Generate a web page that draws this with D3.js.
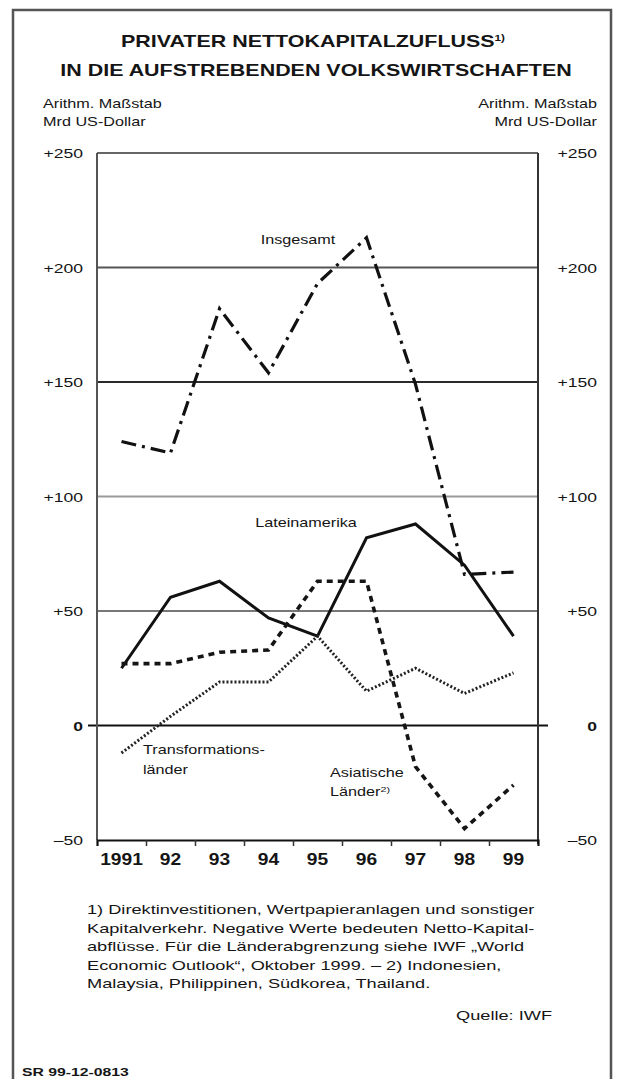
<!DOCTYPE html>
<html>
<head>
<meta charset="utf-8">
<script src="https://cdn.jsdelivr.net/npm/d3@7"></script>
<style>
  body { margin: 0; background: #fff; }
  svg { display: block; font-family: "Liberation Sans", Arial, sans-serif; }
</style>
</head>
<body>
<svg id="chart" width="621" height="1079"></svg>
<script>
// values in Mrd US-Dollar
const years = ["1991", "92", "93", "94", "95", "96", "97", "98", "99"];
const insgesamt = [124, 119, 182, 154, 193, 213, 149, 66, 67];
const lateinamerika = [25, 56, 63, 47, 39, 82, 88, 70, 39];
const asiatischeLaender = [27, 27, 32, 33, 63, 63, -18, -45, -26];
const transformationslaender = [-12, 4, 19, 19, 39, 15, 25, 14, 23];
const yTicks = [250, 200, 150, 100, 50, 0, -50];

const footnote = [
  "1) Direktinvestitionen, Wertpapieranlagen und sonstiger",
  "Kapitalverkehr. Negative Werte bedeuten Netto-Kapital-",
  "abflüsse. Für die Länderabgrenzung siehe IWF „World",
  "Economic Outlook“, Oktober 1999. – 2) Indonesien,",
  "Malaysia, Philippinen, Südkorea, Thailand."
];

const svg = d3.select("#chart");
const plot = { left: 97, right: 538, top: 153, bottom: 840 };

// the print is wide: every text is stretched sideways
function label(x, y, str, opt = {}) {
  const t = svg
    .append("text")
    .attr("transform", `translate(${x},${y}) scale(${opt.sx || 1.35},1)`)
    .attr("text-anchor", opt.anchor || "start")
    .attr("font-size", opt.size || 13)
    .attr("font-weight", opt.weight || "normal")
    .attr("fill", "#151515")
    .text(str);
  return t;
}

// outer frame (open at the bottom)
svg
  .append("path")
  .attr("d", "M13,1079 V10 H611 V1079")
  .attr("fill", "none")
  .attr("stroke", "#555")
  .attr("stroke-width", 2.5);

const x = d3
  .scaleBand()
  .domain(years)
  .range([plot.left, plot.right])
  .padding(0);
const y = d3.scaleLinear().domain([-50, 250]).range([plot.bottom, plot.top]);
const cx = (d) => x(d) + x.bandwidth() / 2;

// horizontal grid
const gridColor = { 250: "#666", 200: "#555", 150: "#2a2a2a", 100: "#999", 50: "#777" };
svg
  .selectAll(".grid")
  .data(yTicks.filter((d) => d > 0))
  .enter()
  .append("line")
  .attr("class", "grid")
  .attr("x1", plot.left)
  .attr("x2", plot.right)
  .attr("y1", (d) => y(d))
  .attr("y2", (d) => y(d))
  .attr("stroke", (d) => gridColor[d])
  .attr("stroke-width", 2);

// zero line, reaches a little past both sides
svg
  .append("line")
  .attr("x1", plot.left - 9)
  .attr("x2", plot.right + 10)
  .attr("y1", y(0))
  .attr("y2", y(0))
  .attr("stroke", "#111")
  .attr("stroke-width", 2.2);

// side axes
svg
  .append("line")
  .attr("x1", plot.left)
  .attr("x2", plot.left)
  .attr("y1", plot.top)
  .attr("y2", plot.bottom)
  .attr("stroke", "#555")
  .attr("stroke-width", 2);
svg
  .append("line")
  .attr("x1", plot.right)
  .attr("x2", plot.right)
  .attr("y1", plot.top)
  .attr("y2", plot.bottom + 4)
  .attr("stroke", "#333")
  .attr("stroke-width", 2);

// bottom axis with ticks between the years
const xAxis = svg
  .append("g")
  .attr("transform", `translate(0,${plot.bottom})`)
  .call(
    d3
      .axisBottom(d3.scaleLinear().domain([0, years.length]).range([plot.left, plot.right]))
      .tickValues(d3.range(1, years.length))
      .tickSize(6)
      .tickFormat("")
  );
xAxis.select(".domain").attr("stroke", "#111").attr("stroke-width", 2.2);
xAxis.selectAll(".tick line").attr("stroke", "#333").attr("stroke-width", 1.5);

years.forEach((d) =>
  label(cx(d), plot.bottom + 25, d, { size: 16, weight: "bold", anchor: "middle", sx: 1.2 })
);

// y tick labels, both sides
yTicks.forEach((v) => {
  const s = v > 0 ? "+" + v : v < 0 ? "–" + -v : "0";
  const opt = { size: 13, weight: v === 0 ? "bold" : "normal" };
  label(plot.left - 14, y(v) + 5, s, { ...opt, anchor: "end" });
  label(597, y(v) + 5, s, { ...opt, anchor: "end" });
});

// series
const series = [
  { values: insgesamt, dash: "15,6,3,6", width: 3.2, color: "#111" },
  { values: lateinamerika, dash: null, width: 3, color: "#111" },
  { values: asiatischeLaender, dash: "6,5", width: 3.6, color: "#151515" },
  { values: transformationslaender, dash: "2,2", width: 3, color: "#222" }
];
const line = d3
  .line()
  .x((d, i) => cx(years[i]))
  .y((d) => y(d));

series.forEach((s) => {
  svg
    .append("path")
    .datum(s.values)
    .attr("d", line)
    .attr("fill", "none")
    .attr("stroke", s.color)
    .attr("stroke-width", s.width)
    .attr("stroke-dasharray", s.dash)
    .attr("stroke-linejoin", "miter");
});

// series labels
label(298, 244, "Insgesamt", { size: 12, anchor: "middle" });
label(306, 527, "Lateinamerika", { size: 12, anchor: "middle" });
label(143, 754, "Transformations-", { size: 12 });
label(143, 774, "länder", { size: 12 });
label(330, 777, "Asiatische", { size: 12 });
label(330, 796, "Länder", { size: 12 })
  .append("tspan")
  .attr("font-size", 8)
  .attr("dy", -4)
  .text("2)");

// title
label(313, 47, "PRIVATER NETTOKAPITALZUFLUSS", { size: 16.5, weight: "bold", anchor: "middle", sx: 1.3 })
  .append("tspan")
  .attr("font-size", 9)
  .attr("dy", -6)
  .text("1)");
label(316, 76, "IN DIE AUFSTREBENDEN VOLKSWIRTSCHAFTEN", {
  size: 16.5,
  weight: "bold",
  anchor: "middle",
  sx: 1.3
});

// unit notes
label(43, 108, "Arithm. Maßstab", { size: 12 });
label(43, 126, "Mrd US-Dollar", { size: 12 });
label(597, 108, "Arithm. Maßstab", { size: 12, anchor: "end" });
label(597, 126, "Mrd US-Dollar", { size: 12, anchor: "end" });

// footnote and source
footnote.forEach((t, i) => label(87, 914 + i * 18.5, t, { size: 13, sx: 1.4 }));
label(552, 1020, "Quelle: IWF", { size: 13, anchor: "end", sx: 1.4 });
label(22, 1076, "SR 99-12-0813", { size: 10.5, weight: "bold", sx: 1.5 });
</script>
</body>
</html>
